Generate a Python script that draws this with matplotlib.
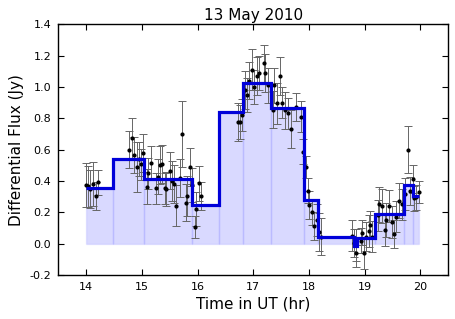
import numpy as np
import matplotlib
matplotlib.use("Agg")
import matplotlib.pyplot as plt

# Observed points: time (hr UT), flux (Jy), 1-sigma error (Jy)
time_hr = [14.00, 14.03, 14.07, 14.13, 14.17, 14.21,
           14.77, 14.83, 14.86, 14.91, 14.95, 14.99, 15.02, 15.09, 15.12, 15.16,
           15.25, 15.29, 15.33, 15.37, 15.41, 15.44, 15.50, 15.54, 15.57, 15.62,
           15.69, 15.73, 15.79, 15.82, 15.86, 15.91, 15.95, 15.98, 16.03, 16.07,
           16.72, 16.76, 16.80, 16.85, 16.89, 16.93, 16.97, 17.02, 17.07, 17.10,
           17.19, 17.22, 17.26, 17.35, 17.37, 17.43, 17.48, 17.51, 17.57, 17.63,
           17.67, 17.76, 17.86, 17.90, 17.94, 17.98, 18.01, 18.06, 18.10, 18.14,
           18.19, 18.22,
           18.78, 18.81, 18.84, 18.85, 18.93, 18.95, 18.98, 19.03, 19.07, 19.10,
           19.14, 19.24, 19.26, 19.32, 19.36, 19.39, 19.44, 19.49, 19.53, 19.57,
           19.61, 19.67, 19.73, 19.77, 19.81, 19.86, 19.89, 19.93, 19.98]
flux_jy = [0.373, 0.366, 0.347, 0.381, 0.302, 0.392,
           0.600, 0.672, 0.564, 0.490, 0.540, 0.507, 0.577, 0.364, 0.449, 0.513,
           0.353, 0.428, 0.502, 0.509, 0.353, 0.347, 0.466, 0.400, 0.379, 0.241,
           0.417, 0.698, 0.262, 0.304, 0.488, 0.375, 0.109, 0.221, 0.385, 0.304,
           0.775, 0.775, 0.820, 0.980, 0.950, 1.040, 1.110, 1.000, 1.070, 1.090,
           1.150, 1.090, 1.010, 0.855, 1.010, 0.896, 1.070, 0.900, 0.850, 0.832,
           0.730, 0.874, 0.810, 0.587, 0.487, 0.338, 0.247, 0.200, 0.113, 0.151,
           0.073, 0.045,
           0.050, 0.006, -0.008, -0.057, 0.019, 0.070, -0.060, 0.045, 0.080, 0.117,
           0.045, 0.180, 0.250, 0.240, 0.087, 0.150, 0.240, 0.137, 0.060, 0.172,
           0.274, 0.250, 0.317, 0.600, 0.338, 0.410, 0.290, 0.296, 0.330]
flux_err = [0.14, 0.13, 0.12, 0.14, 0.09, 0.08,
            0.12, 0.13, 0.115, 0.16, 0.11, 0.10, 0.12, 0.11, 0.10, 0.11,
            0.10, 0.11, 0.12, 0.12, 0.10, 0.11, 0.12, 0.13, 0.12, 0.13,
            0.12, 0.21, 0.12, 0.13, 0.12, 0.11, 0.07, 0.11, 0.11, 0.09,
            0.12, 0.11, 0.10, 0.12, 0.11, 0.12, 0.13, 0.11, 0.12, 0.11,
            0.12, 0.12, 0.11, 0.12, 0.11, 0.13, 0.12, 0.10, 0.12, 0.10,
            0.12, 0.09, 0.10, 0.08, 0.07, 0.08, 0.09, 0.08, 0.09, 0.10,
            0.12, 0.12,
            0.10, 0.09, 0.10, 0.09, 0.08, 0.08, 0.10, 0.09, 0.10, 0.09,
            0.10, 0.10, 0.11, 0.11, 0.10, 0.11, 0.10, 0.10, 0.09, 0.10,
            0.11, 0.10, 0.10, 0.15, 0.09, 0.09, 0.08, 0.08, 0.07]

# Bayesian-block representation
block_edges = [14.0, 14.48, 15.04, 15.91, 16.38, 16.82, 17.32, 17.91, 18.16,
               18.81, 18.87, 19.18, 19.70, 19.87, 19.97]
block_flux = [0.357, 0.54, 0.413, 0.247, 0.84, 1.024, 0.868, 0.28, 0.04,
              -0.015, 0.038, 0.19, 0.375, 0.305]

plt.rcParams['font.family'] = ['DejaVu Sans']
fig = plt.figure(figsize=(4.55, 3.19), dpi=100)
ax = fig.add_axes([0.128, 0.138, 0.857, 0.786])

edges = np.array(block_edges)
ax.bar(edges[:-1], block_flux, width=np.diff(edges), align='edge',
       color=(0, 0, 1, 0.15), edgecolor=(0, 0, 1, 0.07), linewidth=1.0, zorder=1)
ax.errorbar(time_hr, flux_jy, yerr=flux_err, fmt='o', ms=2.0, color='k',
            mec='k', ecolor='#666666', elinewidth=0.7, capsize=3, capthick=0.7,
            zorder=2)
ax.stairs(block_flux, block_edges, baseline=None, color=(0, 0, 0.85),
          linewidth=2.3, zorder=3)

ax.set_xlim(13.5, 20.5)
ax.set_ylim(-0.2, 1.4)
ax.set_xticks([14, 15, 16, 17, 18, 19, 20])
ax.set_yticks(np.arange(-0.2, 1.41, 0.2))
ax.set_yticklabels(['-0.2', '0.0', '0.2', '0.4', '0.6', '0.8', '1.0', '1.2', '1.4'])
ax.tick_params(direction='in', top=True, right=True, length=4, width=0.8,
               labelsize=8, pad=5)
for s in ax.spines.values():
    s.set_linewidth(1.0)

ax.set_title('13 May 2010', fontsize=11, pad=3)
ax.set_xlabel('Time in UT (hr)', fontsize=11, labelpad=3)
ax.set_ylabel('Differential Flux (Jy)', fontsize=11, labelpad=4)

fig.savefig('out.png', dpi=100)
